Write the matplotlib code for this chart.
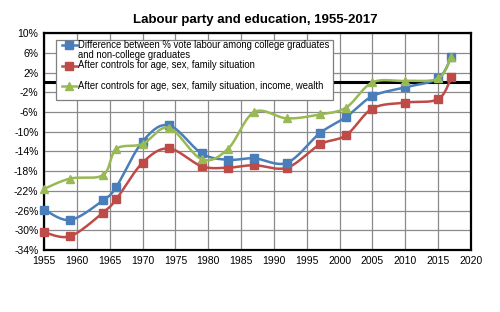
import numpy as np
import matplotlib
matplotlib.use("Agg")
import matplotlib.pyplot as plt
from matplotlib.lines import Line2D
from matplotlib.patches import Rectangle

plt.rcParams['font.family'] = ['Liberation Sans', 'DejaVu Sans']

years = [1955, 1959, 1964, 1966, 1970, 1974, 1979, 1983, 1987, 1992, 1997, 2001, 2005, 2010, 2015, 2017]
diff_college = [-25.8, -27.9, -23.9, -21.2, -12.0, -8.7, -14.4, -15.7, -15.4, -16.3, -10.3, -7.0, -2.8, -1.0, 0.8, 5.2]
ctrl_basic = [-30.4, -31.2, -26.4, -23.7, -16.3, -13.4, -17.0, -17.3, -16.8, -17.3, -12.6, -10.7, -5.3, -4.1, -3.4, 1.0]
ctrl_full = [-21.6, -19.5, -18.8, -13.5, -12.5, -9.2, -15.6, -13.5, -6.0, -7.3, -6.5, -5.1, 0.0, 0.3, 0.8, 5.2]

labels = ["Difference between % vote labour among college graduates\nand non-college graduates",
          "After controls for age, sex, family situation",
          "After controls for age, sex, family situation, income, wealth"]
colors = ['#4a7ebb', '#be4b48', '#98b954']
markers = ['s', 's', '^']
title = "Labour party and education, 1955-2017"

xticks = list(range(1955, 2021, 5))
yticks = list(range(-34, 11, 4))

fig = plt.figure(figsize=(5, 3.12), dpi=100)
ax = fig.add_axes([0.088, 0.1987, 0.854, 0.6953])
ax.set_xlim(1955, 2020)
ax.set_ylim(-34, 10)

SX, SY = 6.57, 4.93  # px per unit for smoothing in screen-like space


def smooth(xs, ys, n=30):
    P = np.column_stack([np.array(xs, float) * SX, np.array(ys, float) * SY])
    out = []
    for i in range(len(P) - 1):
        p0 = P[i - 1] if i > 0 else P[i]
        p1 = P[i]
        p2 = P[i + 1]
        p3 = P[i + 2] if i + 2 < len(P) else P[i + 1]
        c1 = p1 + (p2 - p0) / 6.0
        c2 = p2 - (p3 - p1) / 6.0
        t = np.linspace(0, 1, n)[:, None]
        seg = (1 - t) ** 3 * p1 + 3 * (1 - t) ** 2 * t * c1 + 3 * (1 - t) * t ** 2 * c2 + t ** 3 * p2
        out.append(seg if i == 0 else seg[1:])
    S = np.vstack(out)
    return S[:, 0] / SX, S[:, 1] / SY


ax.set_xticks(xticks)
ax.set_yticks(yticks)
ax.set_yticklabels([f"{v}%" for v in yticks])
ax.grid(True, color='#8a8a8a', linewidth=0.9)
ax.set_axisbelow(True)
ax.tick_params(length=0, labelsize=7.5, pad=4)
for s in ax.spines.values():
    s.set_linewidth(1.6)
    s.set_color('black')

ax.axhline(0, color='black', linewidth=2.2, zorder=2)

series = [diff_college, ctrl_basic, ctrl_full]
msizes = [6, 5.5, 6]
zord = [5, 4, 6]
for ys, c, m, ms, z in zip(series, colors, markers, msizes, zord):
    sx, sy = smooth(years, ys)
    ax.plot(sx, sy, color=c, linewidth=1.8, zorder=z, clip_on=False)
    ax.plot(years, ys, linestyle='none', marker=m, color=c, markersize=ms, zorder=z, clip_on=False)

fig.text(0.51, 0.935, title, ha='center', va='center', fontsize=9.5, fontweight='bold')

# manual legend (figure pixel coords -> figure fraction)
W, H = 500.0, 312.0
def fx(px):
    return px / W
def fy(py):
    return 1 - py / H

box = Rectangle((fx(56), fy(100)), fx(333) - fx(56), fy(39.5) - fy(100), transform=fig.transFigure,
                facecolor='white', edgecolor='#7f7f7f', linewidth=0.9, zorder=10)
fig.add_artist(box)
rows = [(44.5, 55.5), (65.5, None), (85.7, None)]
for (ty, ty2), lab, c, m, ms in zip(rows, labels, colors, markers, msizes):
    fig.add_artist(Line2D([fx(61.5), fx(77)], [fy(ty), fy(ty)], transform=fig.transFigure,
                          color=c, linewidth=1.8, zorder=11))
    fig.add_artist(Line2D([fx(69.3)], [fy(ty)], transform=fig.transFigure, marker=m,
                          color=c, markersize=ms, zorder=11))
    lines = lab.split("\n")
    for k, ln in enumerate(lines):
        yy = ty if k == 0 else ty2
        fig.text(fx(77.5), fy(yy), ln, ha='left', va='center', fontsize=6.85, zorder=12)

fig.savefig("out.png", dpi=100)
